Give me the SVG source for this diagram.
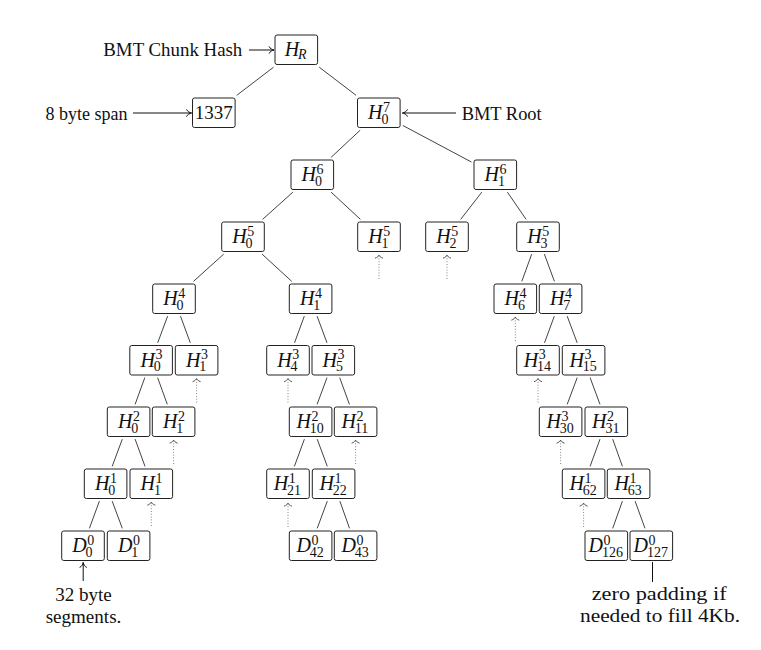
<svg xmlns="http://www.w3.org/2000/svg" width="761" height="650" viewBox="0 0 761 650">
<style>
.bx{fill:#fff;stroke:#222;stroke-width:1}
.m{font-family:"Liberation Serif","Times New Roman",serif;font-style:italic;font-size:20px;fill:#111}
.s{font-style:normal;font-size:14px}
.si{font-size:14px}
.t{font-family:"Liberation Serif","Times New Roman",serif;font-size:19px;fill:#111}
.e line{stroke:#444;stroke-width:1}
.la{stroke:#111;stroke-width:1;fill:none}
.d{stroke:#777;stroke-width:0.9;stroke-dasharray:1 1.8;fill:none}
</style>
<defs>
<marker id="to" markerUnits="userSpaceOnUse" markerWidth="12" markerHeight="12" refX="0" refY="0" orient="auto" overflow="visible" viewBox="-6 -6 12 12">
<path d="M-5,-3.6 C-4,-1.4 -1.6,-0.3 0,0 C-1.6,0.3 -4,1.4 -5,3.6" fill="none" stroke="#111" stroke-width="1"/>
</marker>
<marker id="up" markerUnits="userSpaceOnUse" markerWidth="12" markerHeight="12" refX="0" refY="0" orient="auto" overflow="visible" viewBox="-6 -6 12 12">
<path d="M-3.2,-4 C-2.4,-1.6 -1,-0.3 0,0 C-1,0.3 -2.4,1.6 -3.2,4" fill="none" stroke="#444" stroke-width="0.9"/>
</marker>
</defs>

<g id="connectors" class="e">
<line x1="273.6" y1="67.15" x2="236.7" y2="95.35"/>
<line x1="319.2" y1="67.15" x2="356.1" y2="95.35"/>
<line x1="360.2" y1="130.15" x2="331.1" y2="157.35"/>
<line x1="402.9" y1="125.5" x2="471.4" y2="162"/>
<line x1="292.9" y1="192.15" x2="262.6" y2="219.35"/>
<line x1="331.1" y1="192.15" x2="360.4" y2="219.35"/>
<line x1="481.8" y1="192.15" x2="460.7" y2="219.35"/>
<line x1="507.4" y1="192.15" x2="526.1" y2="219.35"/>
<line x1="223.7" y1="254.15" x2="193.5" y2="281.35"/>
<line x1="262.1" y1="254.15" x2="291.7" y2="281.35"/>
<line x1="531.7" y1="254.15" x2="521.8" y2="281.35"/>
<line x1="544.4" y1="254.15" x2="554.4" y2="281.35"/>
<line x1="167.6" y1="316.15" x2="157.7" y2="342.85"/>
<line x1="180.5" y1="316.15" x2="190.3" y2="342.85"/>
<line x1="304.3" y1="316.15" x2="294.5" y2="342.85"/>
<line x1="317.1" y1="316.15" x2="327" y2="342.85"/>
<line x1="554.3" y1="316.15" x2="544.5" y2="342.85"/>
<line x1="567.2" y1="316.15" x2="577.2" y2="342.85"/>
<line x1="144.8" y1="377.65" x2="135.1" y2="404.35"/>
<line x1="157.6" y1="377.65" x2="167.3" y2="404.35"/>
<line x1="327" y1="377.65" x2="317.1" y2="404.35"/>
<line x1="339.7" y1="377.65" x2="349.4" y2="404.35"/>
<line x1="577.2" y1="377.65" x2="567.2" y2="404.35"/>
<line x1="590.1" y1="377.65" x2="600" y2="404.35"/>
<line x1="122.3" y1="439.15" x2="112.2" y2="466.35"/>
<line x1="135.1" y1="439.15" x2="145" y2="466.35"/>
<line x1="304.4" y1="439.15" x2="294.4" y2="466.35"/>
<line x1="317.2" y1="439.15" x2="327.3" y2="466.35"/>
<line x1="600" y1="439.15" x2="590.1" y2="466.35"/>
<line x1="612.7" y1="439.15" x2="622.4" y2="466.35"/>
<line x1="99.4" y1="501.15" x2="89.4" y2="528.35"/>
<line x1="112.2" y1="501.15" x2="122.3" y2="528.35"/>
<line x1="327.3" y1="501.15" x2="317.2" y2="528.35"/>
<line x1="339.9" y1="501.15" x2="349.5" y2="528.35"/>
<line x1="622.4" y1="501.15" x2="612.7" y2="528.35"/>
<line x1="635.1" y1="501.15" x2="645" y2="528.35"/>
</g>

<g id="pruned">
<path class="d" d="M379,279 V255" marker-end="url(#up)"/>
<path class="d" d="M447,279 V255" marker-end="url(#up)"/>
<path class="d" d="M515.3,341 V317" marker-end="url(#up)"/>
<path class="d" d="M196.6,402.5 V378.5" marker-end="url(#up)"/>
<path class="d" d="M288,402.5 V378.5" marker-end="url(#up)"/>
<path class="d" d="M538,402.5 V378.5" marker-end="url(#up)"/>
<path class="d" d="M173.6,464 V440" marker-end="url(#up)"/>
<path class="d" d="M355.6,464 V440" marker-end="url(#up)"/>
<path class="d" d="M560.6,464 V440" marker-end="url(#up)"/>
<path class="d" d="M151.3,526 V502" marker-end="url(#up)"/>
<path class="d" d="M288,527 V503" marker-end="url(#up)"/>
<path class="d" d="M583.6,527 V503" marker-end="url(#up)"/>
</g>

<g id="annotations">
<text class="t" x="103.3" y="56" textLength="139" lengthAdjust="spacingAndGlyphs">BMT Chunk Hash</text>
<path class="la" d="M249,50 H274" marker-end="url(#to)"/>
<text class="t" x="45.5" y="119.5" textLength="82" lengthAdjust="spacingAndGlyphs">8 byte span</text>
<path class="la" d="M133,113 H191.5" marker-end="url(#to)"/>
<text class="t" x="461.7" y="119.5" textLength="80" lengthAdjust="spacingAndGlyphs">BMT Root</text>
<path class="la" d="M456,113 H402.5" marker-end="url(#to)"/>
<text class="t" x="83.5" y="600.5" text-anchor="middle" textLength="56.7" lengthAdjust="spacingAndGlyphs">32 byte</text>
<text class="t" x="83.5" y="622.5" text-anchor="middle" textLength="75.7" lengthAdjust="spacingAndGlyphs">segments.</text>
<path class="la" d="M83.2,581 V562.5" marker-end="url(#to)"/>
<path class="la" d="M652.5,562 V582"/>
<text class="t" x="659.2" y="600" text-anchor="middle" textLength="135" lengthAdjust="spacingAndGlyphs">zero padding if</text>
<text class="t" x="660" y="622.3" text-anchor="middle" textLength="160" lengthAdjust="spacingAndGlyphs">needed to fill 4Kb.</text>
</g>

<g id="n-HR"><rect class="bx" x="275" y="35" width="42.6" height="29.5" rx="2"/><text class="m" x="284.8" y="56.25">H<tspan class="si" x="298.1" y="59.25">R</tspan></text></g>
<g id="n-1337"><rect class="bx" x="192.5" y="98" width="42.6" height="29.5" rx="2"/><text class="t" x="213.8" y="119.25" text-anchor="middle">1337</text></g>
<g id="n-H7-0"><rect class="bx" x="357.5" y="98" width="42.6" height="29.5" rx="2"/><text class="m" x="368.1" y="119.25">H<tspan class="s" x="383.1" y="111.75">7</tspan><tspan class="s" x="381.4" y="123.75">0</tspan></text></g>

<g id="n-H6-0"><rect class="bx" x="291" y="160" width="42.6" height="29.5" rx="2"/><text class="m" x="301.6" y="181.25">H<tspan class="s" x="316.6" y="173.75">6</tspan><tspan class="s" x="314.9" y="185.75">0</tspan></text></g>
<g id="n-H6-1"><rect class="bx" x="474" y="160" width="42.6" height="29.5" rx="2"/><text class="m" x="484.6" y="181.25">H<tspan class="s" x="499.6" y="173.75">6</tspan><tspan class="s" x="497.9" y="185.75">1</tspan></text></g>

<g id="n-H5-0"><rect class="bx" x="221.7" y="222" width="42.6" height="29.5" rx="2"/><text class="m" x="232.3" y="243.25">H<tspan class="s" x="247.3" y="235.75">5</tspan><tspan class="s" x="245.6" y="247.75">0</tspan></text></g>
<g id="n-H5-1"><rect class="bx" x="357.7" y="222" width="42.6" height="29.5" rx="2"/><text class="m" x="368.3" y="243.25">H<tspan class="s" x="383.3" y="235.75">5</tspan><tspan class="s" x="381.6" y="247.75">1</tspan></text></g>
<g id="n-H5-2"><rect class="bx" x="425.7" y="222" width="42.6" height="29.5" rx="2"/><text class="m" x="436.3" y="243.25">H<tspan class="s" x="451.3" y="235.75">5</tspan><tspan class="s" x="449.6" y="247.75">2</tspan></text></g>
<g id="n-H5-3"><rect class="bx" x="516.7" y="222" width="42.6" height="29.5" rx="2"/><text class="m" x="527.3" y="243.25">H<tspan class="s" x="542.3" y="235.75">5</tspan><tspan class="s" x="540.6" y="247.75">3</tspan></text></g>

<g id="n-H4-0"><rect class="bx" x="152.7" y="284" width="42.6" height="29.5" rx="2"/><text class="m" x="163.3" y="305.25">H<tspan class="s" x="178.3" y="297.75">4</tspan><tspan class="s" x="176.6" y="309.75">0</tspan></text></g>
<g id="n-H4-1"><rect class="bx" x="289.3" y="284" width="42.6" height="29.5" rx="2"/><text class="m" x="299.9" y="305.25">H<tspan class="s" x="314.9" y="297.75">4</tspan><tspan class="s" x="313.2" y="309.75">1</tspan></text></g>
<g id="n-H4-6"><rect class="bx" x="494" y="284" width="42.6" height="29.5" rx="2"/><text class="m" x="504.6" y="305.25">H<tspan class="s" x="519.6" y="297.75">4</tspan><tspan class="s" x="517.9" y="309.75">6</tspan></text></g>
<g id="n-H4-7"><rect class="bx" x="539.3" y="284" width="42.6" height="29.5" rx="2"/><text class="m" x="549.9" y="305.25">H<tspan class="s" x="564.9" y="297.75">4</tspan><tspan class="s" x="563.2" y="309.75">7</tspan></text></g>

<g id="n-H3-0"><rect class="bx" x="129.8" y="345.5" width="42.6" height="29.5" rx="2"/><text class="m" x="140.4" y="366.75">H<tspan class="s" x="155.4" y="359.25">3</tspan><tspan class="s" x="153.7" y="371.25">0</tspan></text></g>
<g id="n-H3-1"><rect class="bx" x="175.3" y="345.5" width="42.6" height="29.5" rx="2"/><text class="m" x="185.9" y="366.75">H<tspan class="s" x="200.9" y="359.25">3</tspan><tspan class="s" x="199.2" y="371.25">1</tspan></text></g>
<g id="n-H3-4"><rect class="bx" x="266.7" y="345.5" width="42.6" height="29.5" rx="2"/><text class="m" x="277.3" y="366.75">H<tspan class="s" x="292.3" y="359.25">3</tspan><tspan class="s" x="290.6" y="371.25">4</tspan></text></g>
<g id="n-H3-5"><rect class="bx" x="312" y="345.5" width="42.6" height="29.5" rx="2"/><text class="m" x="322.6" y="366.75">H<tspan class="s" x="337.6" y="359.25">3</tspan><tspan class="s" x="335.9" y="371.25">5</tspan></text></g>
<g id="n-H3-14"><rect class="bx" x="516.7" y="345.5" width="42.6" height="29.5" rx="2"/><text class="m" x="523.8" y="366.75">H<tspan class="s" x="538.8" y="359.25">3</tspan><tspan class="s" x="537.1" y="371.25">14</tspan></text></g>
<g id="n-H3-15"><rect class="bx" x="562.3" y="345.5" width="42.6" height="29.5" rx="2"/><text class="m" x="569.4" y="366.75">H<tspan class="s" x="584.4" y="359.25">3</tspan><tspan class="s" x="582.7" y="371.25">15</tspan></text></g>

<g id="n-H2-0"><rect class="bx" x="107.3" y="407" width="42.6" height="29.5" rx="2"/><text class="m" x="117.9" y="428.25">H<tspan class="s" x="132.9" y="420.75">2</tspan><tspan class="s" x="131.2" y="432.75">0</tspan></text></g>
<g id="n-H2-1"><rect class="bx" x="152.3" y="407" width="42.6" height="29.5" rx="2"/><text class="m" x="162.9" y="428.25">H<tspan class="s" x="177.9" y="420.75">2</tspan><tspan class="s" x="176.2" y="432.75">1</tspan></text></g>
<g id="n-H2-10"><rect class="bx" x="289.3" y="407" width="42.6" height="29.5" rx="2"/><text class="m" x="296.4" y="428.25">H<tspan class="s" x="311.4" y="420.75">2</tspan><tspan class="s" x="309.7" y="432.75">10</tspan></text></g>
<g id="n-H2-11"><rect class="bx" x="334.3" y="407" width="42.6" height="29.5" rx="2"/><text class="m" x="341.4" y="428.25">H<tspan class="s" x="356.4" y="420.75">2</tspan><tspan class="s" x="354.7" y="432.75">11</tspan></text></g>
<g id="n-H3-30"><rect class="bx" x="539.3" y="407" width="42.6" height="29.5" rx="2"/><text class="m" x="546.4" y="428.25">H<tspan class="s" x="561.4" y="420.75">3</tspan><tspan class="s" x="559.7" y="432.75">30</tspan></text></g>
<g id="n-H2-31"><rect class="bx" x="585" y="407" width="42.6" height="29.5" rx="2"/><text class="m" x="592.1" y="428.25">H<tspan class="s" x="607.1" y="420.75">2</tspan><tspan class="s" x="605.4" y="432.75">31</tspan></text></g>

<g id="n-H1-0"><rect class="bx" x="84.3" y="469" width="42.6" height="29.5" rx="2"/><text class="m" x="94.9" y="490.25">H<tspan class="s" x="109.9" y="482.75">1</tspan><tspan class="s" x="108.2" y="494.75">0</tspan></text></g>
<g id="n-H1-1"><rect class="bx" x="130" y="469" width="42.6" height="29.5" rx="2"/><text class="m" x="140.6" y="490.25">H<tspan class="s" x="155.6" y="482.75">1</tspan><tspan class="s" x="153.9" y="494.75">1</tspan></text></g>
<g id="n-H1-21"><rect class="bx" x="266.7" y="469" width="42.6" height="29.5" rx="2"/><text class="m" x="273.8" y="490.25">H<tspan class="s" x="288.8" y="482.75">1</tspan><tspan class="s" x="287.1" y="494.75">21</tspan></text></g>
<g id="n-H1-22"><rect class="bx" x="312.3" y="469" width="42.6" height="29.5" rx="2"/><text class="m" x="319.4" y="490.25">H<tspan class="s" x="334.4" y="482.75">1</tspan><tspan class="s" x="332.7" y="494.75">22</tspan></text></g>
<g id="n-H1-62"><rect class="bx" x="562.3" y="469" width="42.6" height="29.5" rx="2"/><text class="m" x="569.4" y="490.25">H<tspan class="s" x="584.4" y="482.75">1</tspan><tspan class="s" x="582.7" y="494.75">62</tspan></text></g>
<g id="n-H1-63"><rect class="bx" x="607.3" y="469" width="42.6" height="29.5" rx="2"/><text class="m" x="614.4" y="490.25">H<tspan class="s" x="629.4" y="482.75">1</tspan><tspan class="s" x="627.7" y="494.75">63</tspan></text></g>

<g id="n-D0-0"><rect class="bx" x="61.7" y="531" width="42.6" height="29.5" rx="2"/><text class="m" x="72.3" y="552.25">D<tspan class="s" x="87.3" y="544.75">0</tspan><tspan class="s" x="85.6" y="556.75">0</tspan></text></g>
<g id="n-D0-1"><rect class="bx" x="107.3" y="531" width="42.6" height="29.5" rx="2"/><text class="m" x="117.9" y="552.25">D<tspan class="s" x="132.9" y="544.75">0</tspan><tspan class="s" x="131.2" y="556.75">1</tspan></text></g>
<g id="n-D0-42"><rect class="bx" x="289.3" y="531" width="42.6" height="29.5" rx="2"/><text class="m" x="296.4" y="552.25">D<tspan class="s" x="311.4" y="544.75">0</tspan><tspan class="s" x="309.7" y="556.75">42</tspan></text></g>
<g id="n-D0-43"><rect class="bx" x="334.3" y="531" width="42.6" height="29.5" rx="2"/><text class="m" x="341.4" y="552.25">D<tspan class="s" x="356.4" y="544.75">0</tspan><tspan class="s" x="354.7" y="556.75">43</tspan></text></g>
<g id="n-D0-126"><rect class="bx" x="585" y="531" width="42.6" height="29.5" rx="2"/><text class="m" x="588.6" y="552.25">D<tspan class="s" x="603.6" y="544.75">0</tspan><tspan class="s" x="601.9" y="556.75">126</tspan></text></g>
<g id="n-D0-127"><rect class="bx" x="630" y="531" width="42.6" height="29.5" rx="2"/><text class="m" x="633.6" y="552.25">D<tspan class="s" x="648.6" y="544.75">0</tspan><tspan class="s" x="646.9" y="556.75">127</tspan></text></g>
</svg>
